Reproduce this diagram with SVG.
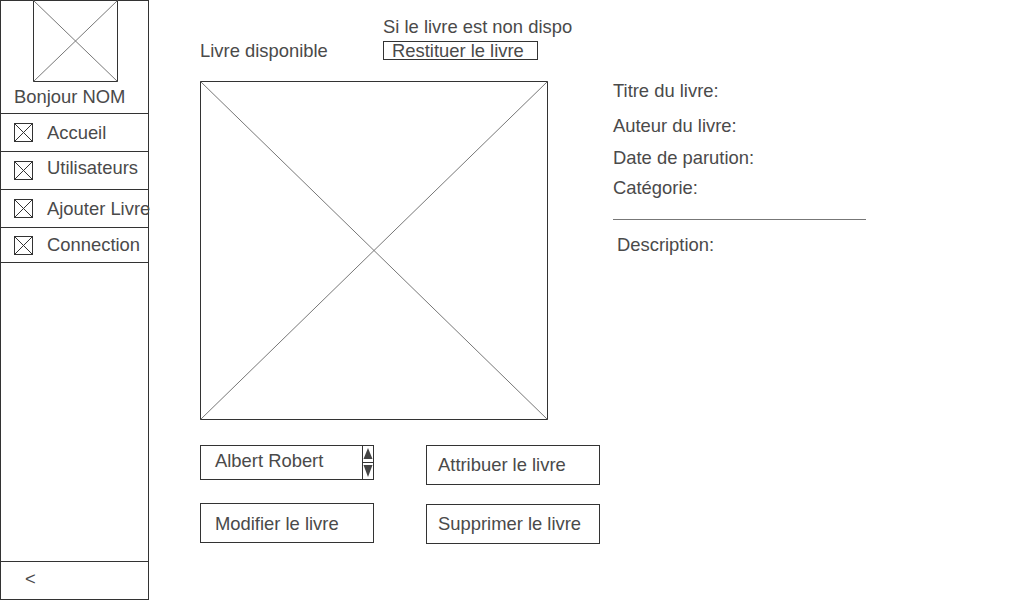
<svg xmlns="http://www.w3.org/2000/svg" width="1024" height="600" viewBox="0 0 1024 600">
<style>
.t{font-family:"Liberation Sans",Arial,sans-serif;font-size:18.4px;fill:#4a4a4a}
.box{fill:#fff;stroke:#333;stroke-width:1}
.ln{stroke:#333;stroke-width:1;fill:none}
.x{stroke:#777;stroke-width:1;fill:none}
.ic{fill:#fff;stroke:#333;stroke-width:1}
</style>
<defs>
<g id="icon">
<rect class="ic" x="0" y="0" width="18" height="18"/>
<path class="ln" d="M0,0L18,18M18,0L0,18"/>
</g>
</defs>
<rect width="1024" height="600" fill="#fff"/>
<g id="sidebar">
<rect class="box" x="0.5" y="0.5" width="148" height="599"/>
<g id="logo">
<rect class="box" x="33.5" y="0.5" width="84" height="81"/>
<path class="x" d="M33.5,0.5L117.5,81.5M117.5,0.5L33.5,81.5"/>
</g>
<text class="t" x="14" y="103">Bonjour NOM</text>
<path class="ln" d="M0,113.5H148M0,151.5H148M0,189.5H148M0,227.5H148M0,262.5H148M0,561.5H148"/>
<g id="nav-accueil"><use href="#icon" x="14.5" y="123.5"/><text class="t" x="47" y="139">Accueil</text></g>
<g id="nav-utilisateurs"><use href="#icon" x="14.5" y="161.5"/><text class="t" x="47" y="174">Utilisateurs</text></g>
<g id="nav-ajouter"><use href="#icon" x="14.5" y="199.5"/><text class="t" x="47" y="215">Ajouter Livre</text></g>
<g id="nav-connection"><use href="#icon" x="14.5" y="236.5"/><text class="t" x="47" y="251">Connection</text></g>
<text class="t" x="25" y="585">&lt;</text>
</g>
<g id="header">
<text class="t" x="200" y="57">Livre disponible</text>
<text class="t" x="383" y="33">Si le livre est non dispo</text>
<g id="restituer">
<rect class="box" x="383.5" y="41.5" width="154" height="18"/>
<text class="t" x="392" y="57">Restituer le livre</text>
</g>
</g>
<g id="image">
<rect class="box" x="200.5" y="81.5" width="347" height="338"/>
<path class="x" d="M200.5,81.5L547.5,419.5M547.5,81.5L200.5,419.5"/>
</g>
<g id="details">
<text class="t" x="613" y="97">Titre du livre:</text>
<text class="t" x="613" y="132">Auteur du livre:</text>
<text class="t" x="613" y="164">Date de parution:</text>
<text class="t" x="613" y="194">Catégorie:</text>
<path class="x" d="M613,219.5H866"/>
<text class="t" x="617" y="251">Description:</text>
</g>
<g id="select-user">
<rect class="box" x="200.5" y="445.5" width="173" height="34"/>
<path class="ln" d="M362.5,445.5V479.5"/>
<path d="M363.5,459L368,448L372.5,459Z" fill="#444"/>
<path d="M363.5,465L368,477L372.5,465Z" fill="#444"/>
<path class="ln" d="M362.5,462.5H373.5"/>
<text class="t" x="215" y="467">Albert Robert</text>
</g>
<g id="btn-attribuer">
<rect class="box" x="426.5" y="445.5" width="173" height="39"/>
<text class="t" x="438" y="471">Attribuer le livre</text>
</g>
<g id="btn-modifier">
<rect class="box" x="200.5" y="503.5" width="173" height="39"/>
<text class="t" x="215" y="530">Modifier le livre</text>
</g>
<g id="btn-supprimer">
<rect class="box" x="426.5" y="504.5" width="173" height="39"/>
<text class="t" x="438" y="530">Supprimer le livre</text>
</g>
<g id="connectors"></g>
</svg>
